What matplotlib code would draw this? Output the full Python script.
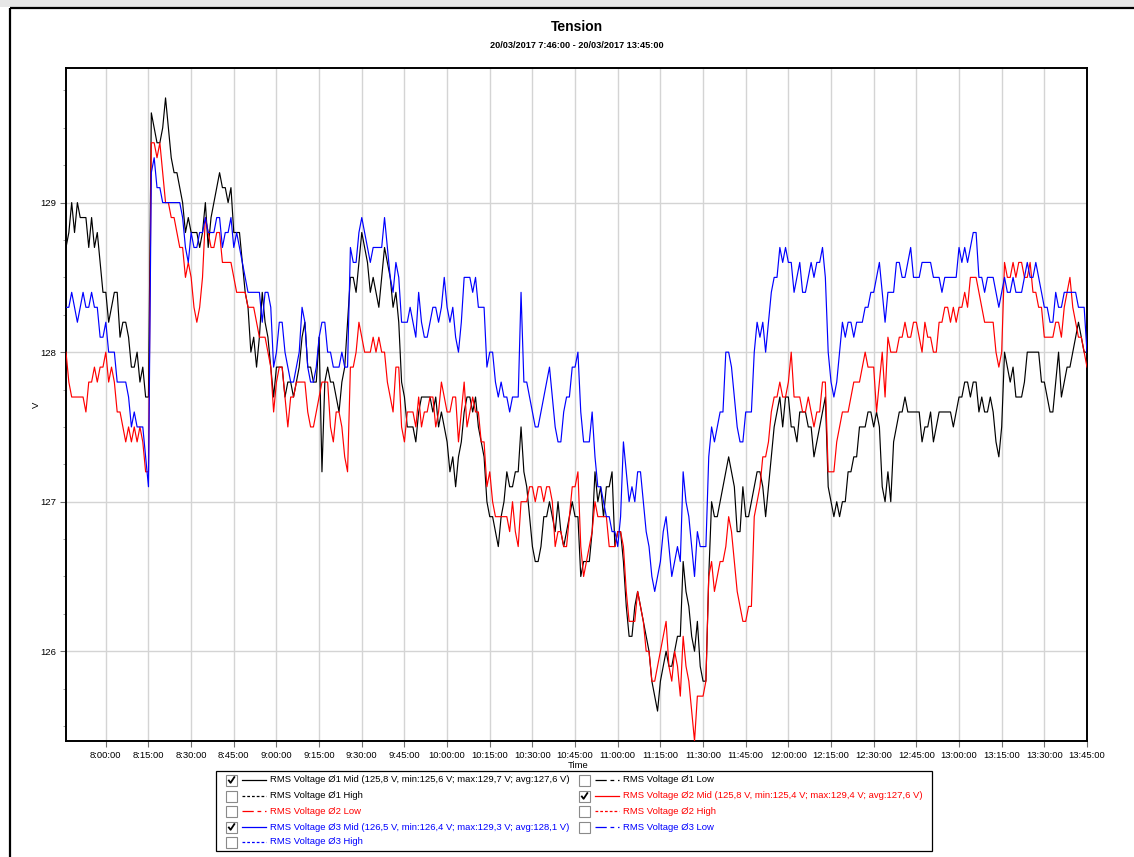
import datetime as dt

import matplotlib
matplotlib.use("Agg")
import matplotlib.pyplot as plt
import matplotlib.dates as mdates
from matplotlib.ticker import FuncFormatter, MultipleLocator, FixedLocator
from matplotlib.patches import Rectangle

plt.rcParams['font.family'] = ['Liberation Sans', 'DejaVu Sans']

W, H = 1134, 857

# --- time base: one sample per minute from 07:46 --------------------------
start = dt.datetime(2017, 3, 20, 7, 46)
end = dt.datetime(2017, 3, 20, 13, 45)
sample_minutes = list(range(360))
times = [start + dt.timedelta(minutes=m) for m in sample_minutes]

# --- RMS voltage, phase 1 (mid) --------------------------------------------
v1_mid = [
    128.7, 128.8, 129.0, 128.8, 129.0, 128.9, 128.9, 128.9, 128.7, 128.9,
    128.7, 128.8, 128.6, 128.4, 128.4, 128.2, 128.3, 128.4, 128.4, 128.1,
    128.2, 128.2, 128.1, 127.9, 127.9, 128.0, 127.8, 127.9, 127.7, 127.7,
    129.6, 129.5, 129.4, 129.4, 129.5, 129.7, 129.5, 129.3, 129.2, 129.2,
    129.1, 129.0, 128.8, 128.9, 128.8, 128.8, 128.8, 128.7, 128.8, 129.0,
    128.7, 128.9, 129.0, 129.1, 129.2, 129.1, 129.1, 129.0, 129.1, 128.8,
    128.8, 128.8, 128.6, 128.4, 128.3, 128.0, 128.1, 127.9, 128.1, 128.4,
    128.2, 128.1, 127.9, 127.7, 127.9, 127.9, 127.9, 127.7, 127.8, 127.8,
    127.7, 127.8, 127.9, 128.1, 128.2, 127.9, 127.9, 127.8, 127.8, 128.1,
    127.2, 127.8, 127.9, 127.8, 127.8, 127.7, 127.6, 127.8, 127.9, 128.2,
    128.5, 128.5, 128.4, 128.6, 128.8, 128.7, 128.6, 128.4, 128.5, 128.4,
    128.3, 128.5, 128.7, 128.6, 128.5, 128.3, 128.4, 128.2, 127.8, 127.7,
    127.5, 127.5, 127.5, 127.4, 127.6, 127.7, 127.7, 127.7, 127.7, 127.6,
    127.7, 127.5, 127.6, 127.5, 127.4, 127.2, 127.3, 127.1, 127.3, 127.4,
    127.6, 127.7, 127.7, 127.6, 127.7, 127.5, 127.4, 127.3, 127.0, 126.9,
    126.9, 126.8, 126.7, 126.9, 127.0, 127.2, 127.1, 127.1, 127.2, 127.2,
    127.5, 127.2, 127.1, 126.9, 126.7, 126.6, 126.6, 126.7, 126.9, 126.9,
    127.0, 126.9, 126.8, 127.0, 126.8, 126.7, 126.8, 126.9, 127.0, 126.9,
    126.9, 126.5, 126.6, 126.6, 126.6, 126.8, 127.2, 127.0, 127.1, 126.9,
    127.1, 127.1, 127.2, 126.7, 126.8, 126.8, 126.6, 126.3, 126.1, 126.1,
    126.3, 126.4, 126.3, 126.2, 126.1, 126.0, 125.8, 125.7, 125.6, 125.8,
    125.9, 126.0, 125.9, 125.9, 126.0, 126.1, 126.1, 126.6, 126.4, 126.3,
    126.1, 126.0, 126.2, 125.9, 125.8, 125.8, 126.5, 127.0, 126.9, 126.9,
    127.0, 127.1, 127.2, 127.3, 127.2, 127.1, 126.8, 126.8, 127.1, 126.9,
    126.9, 127.0, 127.1, 127.2, 127.2, 127.1, 126.9, 127.1, 127.3, 127.5,
    127.6, 127.7, 127.5, 127.7, 127.7, 127.5, 127.5, 127.4, 127.6, 127.6,
    127.6, 127.5, 127.5, 127.3, 127.4, 127.5, 127.6, 127.7, 127.1, 127.0,
    126.9, 127.0, 126.9, 127.0, 127.0, 127.2, 127.2, 127.3, 127.3, 127.5,
    127.5, 127.5, 127.6, 127.6, 127.5, 127.6, 127.5, 127.1, 127.0, 127.2,
    127.0, 127.4, 127.5, 127.6, 127.6, 127.7, 127.6, 127.6, 127.6, 127.6,
    127.6, 127.4, 127.5, 127.5, 127.6, 127.4, 127.5, 127.6, 127.6, 127.6,
    127.6, 127.6, 127.5, 127.6, 127.7, 127.7, 127.8, 127.8, 127.7, 127.8,
    127.8, 127.6, 127.7, 127.6, 127.6, 127.7, 127.6, 127.4, 127.3, 127.5,
    128.0, 127.9, 127.8, 127.9, 127.7, 127.7, 127.7, 127.8, 128.0, 128.0,
    128.0, 128.0, 128.0, 127.8, 127.8, 127.7, 127.6, 127.6, 127.8, 128.0,
    127.7, 127.8, 127.9, 127.9, 128.0, 128.1, 128.2, 128.1, 128.0, 128.0,
]

# --- RMS voltage, phase 2 (mid) --------------------------------------------
v2_mid = [
    128.0, 127.8, 127.7, 127.7, 127.7, 127.7, 127.7, 127.6, 127.8, 127.8,
    127.9, 127.8, 127.9, 127.9, 128.0, 127.8, 127.9, 127.8, 127.6, 127.6,
    127.5, 127.4, 127.5, 127.4, 127.5, 127.4, 127.5, 127.4, 127.2, 127.2,
    129.4, 129.4, 129.3, 129.4, 129.2, 129.0, 129.0, 128.9, 128.9, 128.8,
    128.7, 128.7, 128.5, 128.6, 128.5, 128.3, 128.2, 128.3, 128.5, 128.9,
    128.8, 128.7, 128.7, 128.8, 128.8, 128.6, 128.6, 128.6, 128.6, 128.5,
    128.4, 128.4, 128.4, 128.4, 128.3, 128.3, 128.3, 128.2, 128.1, 128.1,
    128.1, 128.0, 127.9, 127.6, 127.8, 127.9, 127.9, 127.7, 127.5, 127.7,
    127.7, 127.8, 127.8, 127.8, 127.8, 127.6, 127.5, 127.5, 127.6, 127.7,
    127.8, 127.8, 127.8, 127.5, 127.4, 127.6, 127.6, 127.5, 127.3, 127.2,
    127.9, 127.9, 128.0, 128.2, 128.1, 128.0, 128.0, 128.0, 128.1, 128.0,
    128.1, 128.0, 128.0, 127.8, 127.7, 127.6, 127.9, 127.9, 127.5, 127.4,
    127.6, 127.6, 127.6, 127.5, 127.7, 127.5, 127.6, 127.6, 127.7, 127.7,
    127.5, 127.6, 127.8, 127.7, 127.6, 127.6, 127.7, 127.7, 127.4, 127.6,
    127.8, 127.5, 127.6, 127.7, 127.6, 127.6, 127.4, 127.4, 127.1, 127.2,
    127.0, 126.9, 126.9, 126.9, 126.9, 126.9, 126.8, 127.0, 126.8, 126.7,
    127.0, 127.0, 127.0, 127.1, 127.1, 127.0, 127.1, 127.1, 127.0, 127.1,
    127.1, 127.0, 126.7, 126.8, 126.8, 126.7, 126.7, 126.9, 127.1, 127.1,
    127.2, 126.7, 126.5, 126.6, 126.7, 126.8, 127.0, 126.9, 126.9, 126.9,
    126.9, 126.7, 126.7, 126.7, 126.8, 126.8, 126.7, 126.4, 126.2, 126.2,
    126.2, 126.4, 126.3, 126.2, 126.0, 126.0, 125.8, 125.8, 125.9, 126.0,
    126.1, 126.2, 125.9, 125.8, 126.0, 125.9, 125.7, 126.1, 125.9, 125.8,
    125.6, 125.4, 125.7, 125.7, 125.7, 125.8, 126.5, 126.6, 126.4, 126.5,
    126.6, 126.6, 126.7, 126.9, 126.8, 126.6, 126.4, 126.3, 126.2, 126.2,
    126.3, 126.3, 126.9, 127.0, 127.1, 127.3, 127.3, 127.4, 127.6, 127.7,
    127.7, 127.8, 127.7, 127.7, 127.8, 128.0, 127.7, 127.7, 127.7, 127.6,
    127.6, 127.7, 127.6, 127.5, 127.6, 127.6, 127.8, 127.8, 127.2, 127.2,
    127.2, 127.4, 127.5, 127.6, 127.6, 127.6, 127.7, 127.8, 127.8, 127.8,
    127.9, 128.0, 127.9, 127.9, 127.9, 127.6, 127.8, 128.0, 127.7, 128.1,
    128.0, 128.0, 128.0, 128.1, 128.1, 128.2, 128.1, 128.1, 128.2, 128.2,
    128.1, 128.0, 128.2, 128.1, 128.1, 128.0, 128.0, 128.2, 128.2, 128.3,
    128.3, 128.2, 128.3, 128.2, 128.3, 128.3, 128.4, 128.3, 128.5, 128.5,
    128.5, 128.4, 128.3, 128.2, 128.2, 128.2, 128.2, 128.0, 127.9, 128.0,
    128.6, 128.5, 128.5, 128.6, 128.5, 128.6, 128.6, 128.5, 128.5, 128.6,
    128.4, 128.4, 128.3, 128.3, 128.1, 128.1, 128.1, 128.1, 128.2, 128.2,
    128.1, 128.3, 128.4, 128.5, 128.3, 128.2, 128.1, 128.1, 128.0, 127.9,
]

# --- RMS voltage, phase 3 (mid) --------------------------------------------
v3_mid = [
    128.3, 128.3, 128.4, 128.3, 128.2, 128.3, 128.4, 128.3, 128.3, 128.4,
    128.3, 128.3, 128.1, 128.1, 128.2, 128.0, 128.0, 128.0, 127.8, 127.8,
    127.8, 127.8, 127.7, 127.5, 127.6, 127.5, 127.5, 127.5, 127.3, 127.1,
    129.2, 129.3, 129.1, 129.1, 129.0, 129.0, 129.0, 129.0, 129.0, 129.0,
    129.0, 128.9, 128.7, 128.6, 128.8, 128.7, 128.7, 128.8, 128.8, 128.9,
    128.8, 128.8, 128.8, 128.9, 128.9, 128.7, 128.8, 128.8, 128.9, 128.7,
    128.8, 128.7, 128.6, 128.5, 128.4, 128.4, 128.4, 128.4, 128.4, 128.2,
    128.4, 128.4, 128.3, 127.9, 128.0, 128.2, 128.2, 128.0, 127.9, 127.8,
    127.8, 127.9, 128.0, 128.3, 128.2, 127.9, 127.8, 127.8, 127.9, 128.1,
    128.2, 128.2, 128.0, 128.0, 127.9, 127.9, 127.9, 128.0, 127.9, 127.9,
    128.7, 128.6, 128.6, 128.8, 128.9, 128.8, 128.7, 128.6, 128.7, 128.7,
    128.7, 128.7, 128.9, 128.7, 128.5, 128.4, 128.6, 128.5, 128.2, 128.2,
    128.2, 128.3, 128.2, 128.1, 128.4, 128.2, 128.1, 128.1, 128.2, 128.3,
    128.3, 128.2, 128.3, 128.5, 128.3, 128.2, 128.3, 128.1, 128.0, 128.2,
    128.5, 128.5, 128.5, 128.4, 128.5, 128.3, 128.3, 128.3, 127.9, 128.0,
    128.0, 127.8, 127.7, 127.8, 127.7, 127.7, 127.6, 127.7, 127.7, 127.7,
    128.4, 127.8, 127.8, 127.7, 127.6, 127.5, 127.5, 127.6, 127.7, 127.8,
    127.9, 127.7, 127.5, 127.4, 127.4, 127.6, 127.7, 127.7, 127.9, 127.9,
    128.0, 127.6, 127.4, 127.4, 127.4, 127.6, 127.3, 127.1, 127.1, 127.0,
    126.9, 126.9, 126.8, 126.8, 126.7, 126.9, 127.4, 127.2, 127.0, 127.1,
    127.0, 127.2, 127.2, 127.0, 126.8, 126.7, 126.5, 126.4, 126.5, 126.6,
    126.8, 126.9, 126.7, 126.5, 126.6, 126.7, 126.6, 127.2, 127.0, 126.9,
    126.7, 126.5, 126.8, 126.7, 126.7, 126.7, 127.3, 127.5, 127.4, 127.5,
    127.6, 127.6, 128.0, 128.0, 127.9, 127.7, 127.5, 127.4, 127.4, 127.6,
    127.6, 127.6, 128.0, 128.2, 128.1, 128.2, 128.0, 128.2, 128.4, 128.5,
    128.5, 128.7, 128.6, 128.7, 128.6, 128.6, 128.4, 128.5, 128.6, 128.4,
    128.4, 128.5, 128.6, 128.5, 128.6, 128.6, 128.7, 128.5, 128.0, 127.8,
    127.7, 127.8, 128.0, 128.2, 128.1, 128.2, 128.2, 128.1, 128.2, 128.2,
    128.2, 128.3, 128.3, 128.4, 128.4, 128.5, 128.6, 128.4, 128.2, 128.4,
    128.4, 128.4, 128.6, 128.6, 128.5, 128.5, 128.6, 128.7, 128.5, 128.5,
    128.5, 128.6, 128.6, 128.6, 128.6, 128.5, 128.5, 128.5, 128.4, 128.5,
    128.5, 128.5, 128.5, 128.5, 128.7, 128.6, 128.7, 128.6, 128.7, 128.8,
    128.8, 128.5, 128.5, 128.4, 128.5, 128.5, 128.5, 128.4, 128.3, 128.4,
    128.5, 128.4, 128.4, 128.5, 128.4, 128.4, 128.4, 128.5, 128.6, 128.5,
    128.5, 128.6, 128.5, 128.4, 128.3, 128.3, 128.2, 128.2, 128.4, 128.3,
    128.3, 128.4, 128.4, 128.4, 128.4, 128.4, 128.3, 128.3, 128.3, 128.0,
]

y_ticks = [126, 127, 128, 129]
x_ticks = [dt.datetime(2017, 3, 20, 8, 0) + dt.timedelta(minutes=15 * i)
           for i in range(24)]

legend_rows = [
    # (column, row, checked, colour, style, label)
    (0, 0, True, 'black', 'solid',
     'RMS Voltage Ø1 Mid (125,8 V, min:125,6 V; max:129,7 V; avg:127,6 V)'),
    (1, 0, False, 'black', 'long', 'RMS Voltage Ø1 Low'),
    (0, 1, False, 'black', 'dot', 'RMS Voltage Ø1 High'),
    (1, 1, True, '#ff0000', 'solid',
     'RMS Voltage Ø2 Mid (125,8 V, min:125,4 V; max:129,4 V; avg:127,6 V)'),
    (0, 2, False, '#ff0000', 'long', 'RMS Voltage Ø2 Low'),
    (1, 2, False, '#ff0000', 'dot', 'RMS Voltage Ø2 High'),
    (0, 3, True, '#0000ff', 'solid',
     'RMS Voltage Ø3 Mid (126,5 V, min:126,4 V; max:129,3 V; avg:128,1 V)'),
    (1, 3, False, '#0000ff', 'long', 'RMS Voltage Ø3 Low'),
    (0, 4, False, '#0000ff', 'dot', 'RMS Voltage Ø3 High'),
]

# --- figure ----------------------------------------------------------------
fig = plt.figure(figsize=(W / 100, H / 100), dpi=100)
fig.patch.set_facecolor('white')

L, R, T, B = 66, 1087, 68, 741
ax = fig.add_axes([L / W, 1 - B / H, (R - L) / W, (B - T) / H])

ax.plot(times, v1_mid, color='black', lw=0.85, zorder=3)
ax.plot(times, v2_mid, color='#ff0000', lw=0.85, zorder=3)
ax.plot(times, v3_mid, color='#0000ff', lw=0.85, zorder=3)

ax.set_xlim(start, end)
ax.set_ylim(125.4, 129.9)
ax.xaxis.set_major_locator(FixedLocator(mdates.date2num(x_ticks)))
ax.xaxis.set_major_formatter(FuncFormatter(
    lambda v, p: mdates.num2date(v).strftime('%H:%M:%S').lstrip('0')))
ax.yaxis.set_major_locator(FixedLocator(y_ticks))
ax.yaxis.set_minor_locator(MultipleLocator(0.25))
ax.yaxis.set_major_formatter(FuncFormatter(lambda v, p: f'{v:.0f}'))

ax.set_axisbelow(True)
ax.grid(True, which='major', color='#d4d4d4', lw=1.0)
ax.tick_params(axis='both', which='major', labelsize=6.8, length=4,
               width=0.8, color='#707070', pad=3)
ax.tick_params(axis='y', which='minor', length=2, width=0.6, color='#909090')
for side, sp in ax.spines.items():
    sp.set_color('black')
    sp.set_linewidth(1.4)

# --- texts -----------------------------------------------------------------
def fx(x):
    return x / W

def fy(y):
    return 1 - y / H

fig.text(fx(577), fy(27), 'Tension', ha='center', va='center',
         fontsize=10, fontweight='bold')
fig.text(fx(577), fy(45), '20/03/2017 7:46:00 - 20/03/2017 13:45:00',
         ha='center', va='center', fontsize=6.6, fontweight='bold')
fig.text(fx(36), fy(405), 'V', rotation=90, ha='center', va='center',
         fontsize=6.8)
fig.text(fx(578), fy(766), 'Time', ha='center', va='center', fontsize=6.8)

# --- overlay in pixel coordinates: frame and legend ------------------------
ov = fig.add_axes([0, 0, 1, 1], zorder=5)
ov.set_xlim(0, W)
ov.set_ylim(H, 0)
ov.axis('off')
ov.patch.set_alpha(0)

# window frame
ov.add_patch(Rectangle((0, 0), W, 7, facecolor='#e6e6e6', edgecolor='none'))
ov.plot([10, W], [8, 8], color='black', lw=1.6, solid_capstyle='butt')
ov.plot([10, 10], [8, H], color='black', lw=1.6, solid_capstyle='butt')

# legend
ov.add_patch(Rectangle((216, 771), 716, 80, facecolor='white',
                       edgecolor='black', lw=0.9))
col_x = [226, 579]
row_y = [780, 796, 811, 827, 842]
dash_styles = {
    'solid': '-',
    'long': (0, (9, 3, 3, 3)),
    'dot': (0, (2.2, 1.6)),
}
for col, row, checked, color, style, label in legend_rows:
    x0 = col_x[col]
    y0 = row_y[row]
    ov.add_patch(Rectangle((x0, y0 - 5.5), 11, 11, facecolor='white',
                           edgecolor='#8a8a8a', lw=0.8))
    if checked:
        ov.plot([x0 + 2.3, x0 + 4.6, x0 + 8.8], [y0 - 0.2, y0 + 2.8, y0 - 3.6],
                color='black', lw=1.3, solid_capstyle='butt')
    ov.plot([x0 + 16, x0 + 40], [y0, y0], color=color, lw=0.9,
            linestyle=dash_styles[style])
    ov.text(x0 + 44, y0, label, color=color, fontsize=6.8,
            ha='left', va='center')

fig.savefig('out.png', dpi=100)
